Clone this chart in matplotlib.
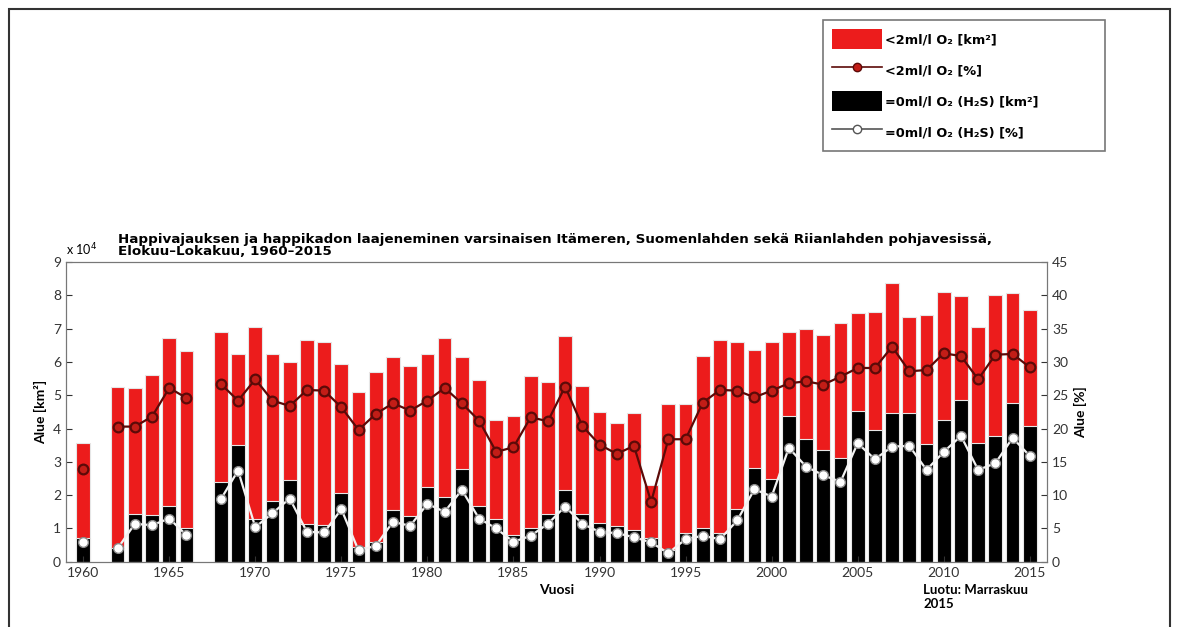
import numpy as np
import matplotlib
matplotlib.use("Agg")
import matplotlib.pyplot as plt
from matplotlib.patches import Rectangle, Patch
from matplotlib.lines import Line2D

plt.rcParams['font.family'] = ['Lato', 'DejaVu Sans']

nan = np.nan
years = np.arange(1960, 2016)

# total area with < 2 ml/l O2, in 10^4 km2
area_low = [3.58, nan, 5.25, 5.22, 5.60, 6.72, 6.34, nan, 6.90, 6.23,
            7.05, 6.23, 5.99, 6.65, 6.60, 5.95, 5.09, 5.70, 6.14, 5.87,
            6.23, 6.72, 6.14, 5.47, 4.26, 4.39, 5.57, 5.39, 6.79, 5.27,
            4.51, 4.16, 4.46, 2.30, 4.73, 4.73, 6.17, 6.67, 6.59, 6.35,
            6.59, 6.89, 6.99, 6.82, 7.17, 7.47, 7.49, 8.37, 7.34, 7.42,
            8.09, 7.99, 7.04, 8.02, 8.07, 7.55]

# area with H2S, in 10^4 km2
area_h2s = [0.70, nan, 0.40, 1.45, 1.40, 1.67, 1.02, nan, 2.39, 3.51,
            1.30, 1.84, 2.46, 1.13, 1.10, 2.06, 0.45, 0.60, 1.55, 1.38,
            2.26, 1.96, 2.78, 1.68, 1.30, 0.80, 1.00, 1.45, 2.16, 1.45,
            1.15, 1.07, 0.95, 0.70, 0.35, 0.85, 1.00, 0.85, 1.60, 2.81,
            2.48, 4.38, 3.68, 3.36, 3.11, 4.54, 3.96, 4.46, 4.48, 3.54,
            4.26, 4.86, 3.58, 3.78, 4.78, 4.08]

pct_low = [14.0, nan, 20.3, 20.3, 21.8, 26.1, 24.6, nan, 26.7, 24.2,
           27.4, 24.2, 23.4, 25.8, 25.7, 23.2, 19.8, 22.2, 23.8, 22.7,
           24.2, 26.1, 23.8, 21.2, 16.5, 17.2, 21.7, 21.1, 26.3, 20.4,
           17.6, 16.2, 17.4, 9.0, 18.4, 18.4, 23.9, 25.8, 25.7, 24.7,
           25.7, 26.8, 27.1, 26.6, 27.8, 29.1, 29.1, 32.3, 28.6, 28.8,
           31.3, 30.9, 27.4, 31.1, 31.2, 29.2]

pct_h2s = [2.9, nan, 2.0, 5.7, 5.5, 6.5, 4.0, nan, 9.4, 13.7,
           5.2, 7.3, 9.5, 4.5, 4.4, 7.9, 1.7, 2.4, 6.0, 5.4,
           8.7, 7.5, 10.8, 6.5, 5.0, 3.0, 3.9, 5.7, 8.3, 5.7,
           4.5, 4.3, 3.7, 2.9, 1.3, 3.4, 3.9, 3.4, 6.2, 10.9,
           9.8, 17.1, 14.3, 13.0, 12.0, 17.8, 15.4, 17.3, 17.4, 13.8,
           16.5, 18.9, 13.8, 14.8, 18.6, 15.9]

RED = '#ec1c1c'
DARKRED = '#5c0a08'
WIDE = ['DejaVu Sans']

fig = plt.figure(figsize=(11.82, 6.27), dpi=100)
ax = fig.add_axes([0.0558, 0.104, 0.83, 0.478])

ax.bar(years, area_low, width=0.8, color=RED, edgecolor='#e6e6e6', linewidth=0.8)
ax.bar(years, area_h2s, width=0.8, color='black', edgecolor='#e6e6e6', linewidth=0.8)
ax.set_xlim(1959, 2016)
ax.set_ylim(0, 9)
ax.set_yticks(range(0, 10))
ax.set_xticks(range(1960, 2016, 5))
ax.tick_params(direction='in', labelsize=10, length=4, colors='#333333')
ax.set_ylabel("Alue [km²]", fontweight='bold', fontsize=10)
ax.set_xlabel("Vuosi", fontweight='bold', fontsize=10)
for s in ax.spines.values():
    s.set_color('#777777')

ax2 = ax.twinx()
ax2.plot(years, pct_low, color=DARKRED, lw=1.6, marker='o', ms=7,
         mfc='#c21d17', mec=DARKRED, mew=1.6)
ax2.plot(years, pct_h2s, color='#f2f2f2', lw=1.6, marker='o', ms=7,
         mfc='white', mec='#8a8a8a', mew=1.0)
ax2.set_ylim(0, 45)
ax2.set_yticks(range(0, 50, 5))
ax2.tick_params(direction='in', labelsize=10, length=4, colors='#333333')
ax2.set_ylabel("Alue [%]", fontweight='bold', fontsize=10)
for s in ax2.spines.values():
    s.set_color('#777777')

ax.text(0.0, 1.012, "x 10$^4$", transform=ax.transAxes, fontsize=9, va='bottom')
ax.text(0.053, 1.012,
        "Happivajauksen ja happikadon laajeneminen varsinaisen Itämeren, "
        "Suomenlahden sekä Riianlahden pohjavesissä,\nElokuu\u2013Lokakuu, 1960\u20132015",
        transform=ax.transAxes, fontsize=9.7, fontweight='bold', va='bottom',
        linespacing=0.95, family=WIDE)

fig.text(0.781, 0.03, "Luotu: Marraskuu\n2015", fontsize=9.5, fontweight='bold',
         linespacing=1.2)

handles = [
    Patch(facecolor=RED, edgecolor='none'),
    Line2D([], [], color=DARKRED, lw=1.2, marker='o', ms=6, mfc='#c21d17', mec=DARKRED),
    Patch(facecolor='black', edgecolor='none'),
    Line2D([], [], color='#555555', lw=1.2, marker='o', ms=6, mfc='white', mec='#555555'),
]
labels = ["<2ml/l O₂ [km²]", "<2ml/l O₂ [%]",
          "=0ml/l O₂ (H₂S) [km²]", "=0ml/l O₂ (H₂S) [%]"]
leg = fig.legend(handles, labels, loc='upper left',
                 bbox_to_anchor=(0.696, 0.76, 0.239, 0.208), mode='expand',
                 prop={'weight': 'bold', 'size': 9.3, 'family': WIDE},
                 frameon=True, fancybox=False,
                 edgecolor='#555555', handlelength=3.9, handleheight=2.0,
                 borderpad=0.7, labelspacing=0.85, handletextpad=0.2,
                 borderaxespad=0)
leg.get_frame().set_linewidth(1.2)

# outer frame around the whole picture
fig.patches.append(Rectangle((0.008, -0.05), 0.982, 1.035, transform=fig.transFigure,
                             fill=False, edgecolor='#333333', lw=1.5))

fig.savefig("out.png", dpi=100)
